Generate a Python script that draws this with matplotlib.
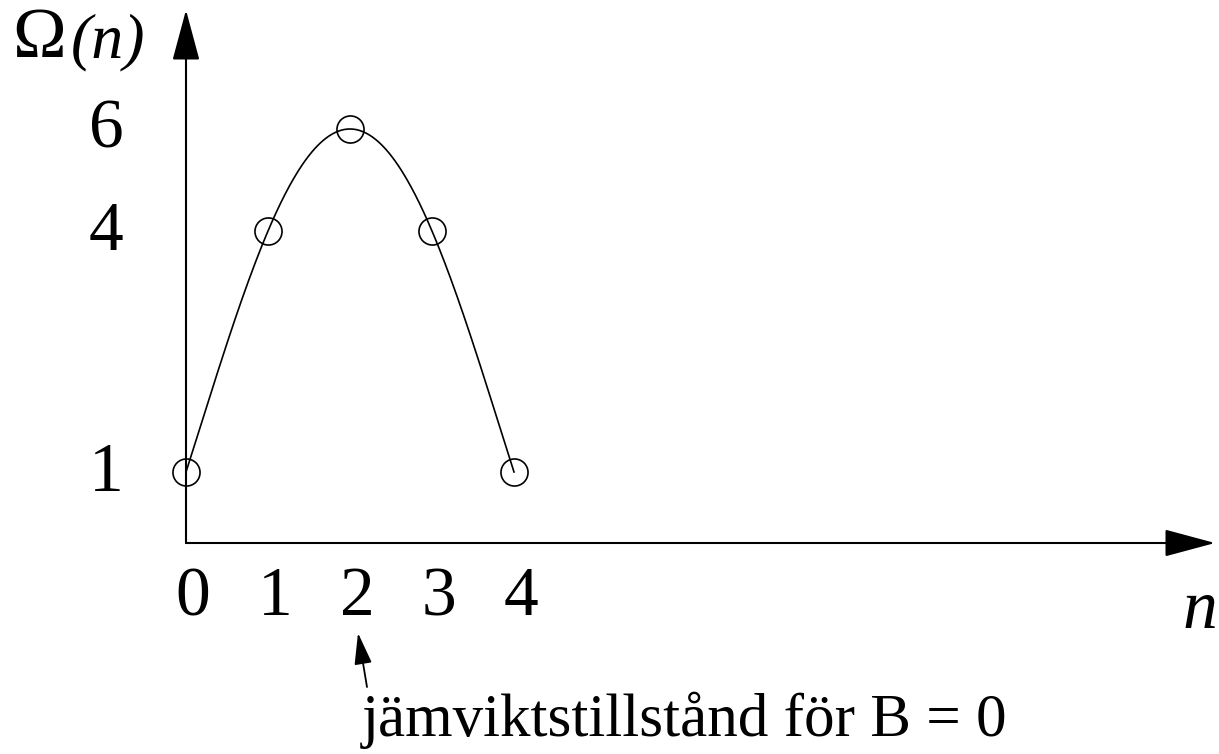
"""
Schematic plot of the multiplicity Omega(n) for four spins,
with the equilibrium state for B = 0 marked.
"""
import numpy as np
import matplotlib
matplotlib.use("agg")
import matplotlib.pyplot as plt

plt.rcParams['font.family'] = ['Liberation Serif', 'DejaVu Serif']

# data
n_values = [0, 1, 2, 3, 4]
omega_values = [1, 4, 6, 4, 1]
y_tick_values = [1, 4, 6]
annotation_text = "jämviktstillstånd för B = 0"

# the y axis of the sketch is not linear: piecewise scale (value -> height in px)
SCALE_OMEGA = [-3, 0, 1, 4, 6, 10]
SCALE_HEIGHT = [-213, 0, 71, 312, 414, 616]


def forward(y):
    return np.interp(y, SCALE_OMEGA, SCALE_HEIGHT)


def inverse(h):
    return np.interp(h, SCALE_HEIGHT, SCALE_OMEGA)


FONTSIZE = 50
PX_PER_N = 82.0
ORIGIN_X, ORIGIN_Y = 186, 543      # pixel position of the origin (from top)
W, H = 1219, 754

fig = plt.figure(figsize=(W / 100, H / 100), dpi=100)
ax = fig.add_axes([0, 0, 1, 1])
ax.set_yscale('function', functions=(forward, inverse))
ax.set_xlim(-ORIGIN_X / PX_PER_N, (W - ORIGIN_X) / PX_PER_N)
ax.set_ylim(inverse(ORIGIN_Y - H), inverse(ORIGIN_Y))
ax.axis('off')

# axes with arrow heads
axis_arrow = dict(arrowstyle='-|>,head_length=1.6,head_width=0.43',
                  mutation_scale=20, lw=1.5, color='black',
                  shrinkA=0, shrinkB=0)
ax.annotate('', xy=((1215 - ORIGIN_X) / PX_PER_N, 0), xytext=(0, 0),
            arrowprops=axis_arrow)
ax.annotate('', xy=(0, inverse(ORIGIN_Y - 10)), xytext=(0, 0),
            arrowprops=axis_arrow)

# smooth curve through the points (fitted in the drawn scale)
coeffs = np.polyfit(n_values, forward(np.array(omega_values)), 4)
n_fine = np.linspace(n_values[0], n_values[-1], 300)
ax.plot(n_fine, inverse(np.polyval(coeffs, n_fine)), color='black', lw=1.2)

# points as open circles
ax.plot(n_values, omega_values, 'o', mfc='none', mec='black',
        ms=19.5, mew=1.2)

# tick labels
for n in n_values:
    ax.annotate(str(n), xy=(n, 0), xytext=(7, -72),
                textcoords='offset pixels', ha='center', va='baseline',
                fontsize=FONTSIZE)
for v in y_tick_values:
    ax.annotate(str(v), xy=(0, v), xytext=(-80, -19),
                textcoords='offset pixels', ha='center', va='baseline',
                fontsize=FONTSIZE)

# axis titles
ax.annotate('Ω', xy=(12, H - 57), xycoords='figure pixels',
            ha='left', va='baseline', fontsize=52)
ax.annotate('(n)', xy=(145, H - 57), xycoords='figure pixels',
            ha='right', va='baseline', fontsize=46, style='italic')
ax.annotate('n', xy=(1183, H - 628), xycoords='figure pixels',
            ha='left', va='baseline', fontsize=FONTSIZE, style='italic')

# equilibrium annotation
ax.annotate('', xy=(358, H - 633), xytext=(367, H - 687),
            xycoords='figure pixels', textcoords='figure pixels',
            arrowprops=dict(arrowstyle='-|>,head_length=0.97,head_width=0.27',
                            mutation_scale=20, lw=1.3, color='black',
                            shrinkA=0, shrinkB=0))
ax.annotate(annotation_text, xy=(362, H - 736), xycoords='figure pixels',
            ha='left', va='baseline', fontsize=44)

fig.savefig('out.png', dpi=100)
